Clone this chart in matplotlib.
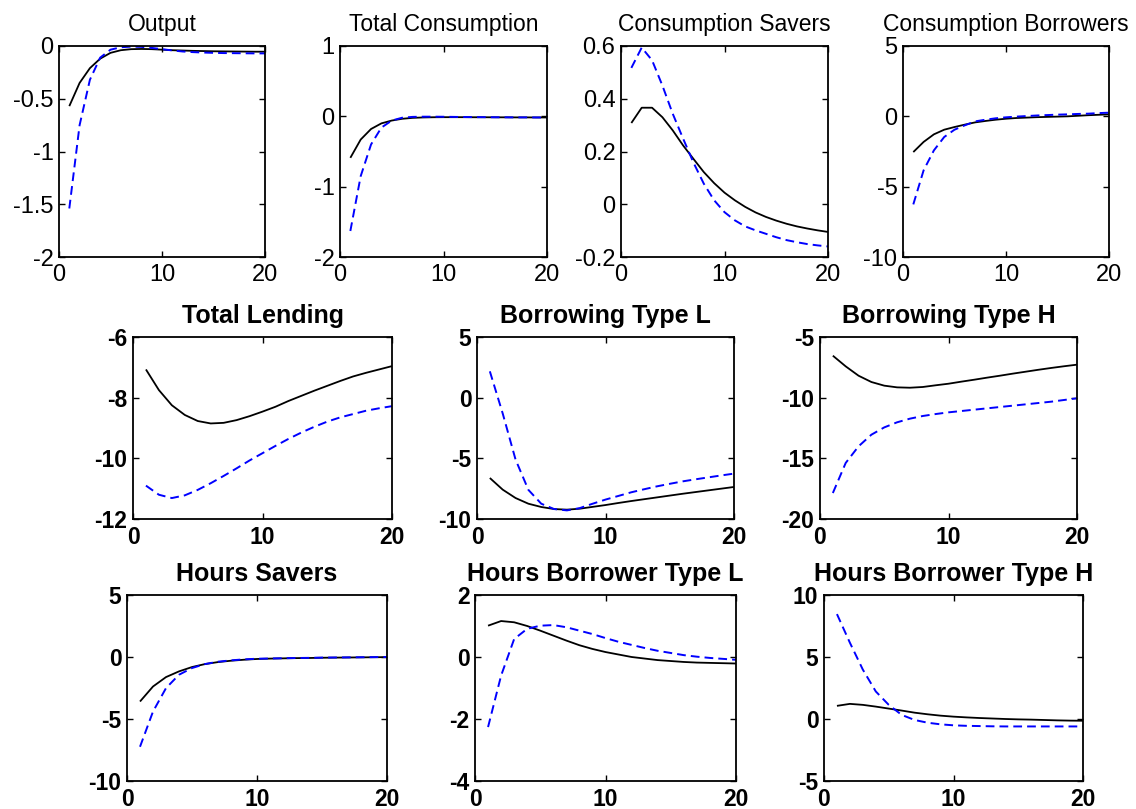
import matplotlib
matplotlib.use('Agg')
import matplotlib.pyplot as plt

plt.rcParams['font.family'] = ['Liberation Sans', 'DejaVu Sans']
plt.rcParams['axes.unicode_minus'] = False

periods = list(range(1, 21))
x_ticks = [0, 10, 20]
x_ticklabels = ['0', '10', '20']

titles = ['Output', 'Total Consumption', 'Consumption Savers', 'Consumption Borrowers',
          'Total Lending', 'Borrowing Type L', 'Borrowing Type H',
          'Hours Savers', 'Hours Borrower Type L', 'Hours Borrower Type H']

output_black = [-0.57, -0.35, -0.21, -0.12, -0.065, -0.04, -0.03, -0.028, -0.03, -0.035,
                -0.04, -0.043, -0.046, -0.048, -0.05, -0.051, -0.052, -0.053, -0.054, -0.054]
output_blue = [-1.54, -0.75, -0.32, -0.11, -0.035, -0.012, -0.006, -0.008, -0.018, -0.03,
               -0.042, -0.052, -0.058, -0.062, -0.065, -0.067, -0.068, -0.069, -0.07, -0.07]

totcons_black = [-0.59, -0.33, -0.18, -0.10, -0.06, -0.035, -0.022, -0.016, -0.013, -0.012,
                 -0.012, -0.012, -0.013, -0.013, -0.014, -0.014, -0.015, -0.015, -0.016, -0.016]
totcons_blue = [-1.63, -0.85, -0.40, -0.16, -0.06, -0.02, -0.008, -0.005, -0.005, -0.006,
                -0.008, -0.01, -0.011, -0.012, -0.013, -0.014, -0.015, -0.015, -0.016, -0.016]

conssav_black = [0.308, 0.366, 0.366, 0.33, 0.28, 0.223, 0.172, 0.122, 0.08, 0.044,
                 0.015, -0.01, -0.031, -0.048, -0.062, -0.074, -0.084, -0.092, -0.099, -0.105]
conssav_blue = [0.517, 0.594, 0.546, 0.45, 0.343, 0.249, 0.158, 0.078, 0.015, -0.03,
                -0.061, -0.084, -0.099, -0.112, -0.125, -0.136, -0.144, -0.151, -0.156, -0.16]

consbor_black = [-2.54, -1.82, -1.28, -0.95, -0.76, -0.59, -0.43, -0.33, -0.24, -0.17,
                 -0.12, -0.09, -0.06, -0.04, -0.02, 0.0, 0.04, 0.08, 0.11, 0.14]
consbor_blue = [-6.26, -3.84, -2.42, -1.47, -0.95, -0.64, -0.36, -0.24, -0.14, -0.07,
                -0.02, 0.02, 0.06, 0.09, 0.12, 0.14, 0.17, 0.19, 0.23, 0.26]

lend_black = [-7.07, -7.75, -8.25, -8.57, -8.77, -8.85, -8.83, -8.74, -8.61, -8.46,
              -8.30, -8.11, -7.94, -7.77, -7.61, -7.45, -7.30, -7.18, -7.07, -6.96]
lend_blue = [-10.9, -11.2, -11.31, -11.22, -11.04, -10.82, -10.58, -10.33, -10.07, -9.83,
             -9.59, -9.36, -9.15, -8.96, -8.79, -8.65, -8.54, -8.43, -8.35, -8.28]

borL_black = [-6.62, -7.58, -8.27, -8.74, -9.01, -9.18, -9.23, -9.15, -9.0, -8.85,
              -8.68, -8.52, -8.37, -8.22, -8.07, -7.92, -7.78, -7.64, -7.50, -7.36]
borL_blue = [2.17, -1.3, -5.1, -7.6, -8.74, -9.18, -9.29, -9.1, -8.74, -8.4,
             -8.1, -7.8, -7.55, -7.31, -7.1, -6.9, -6.73, -6.57, -6.41, -6.26]

borH_black = [-6.54, -7.42, -8.19, -8.71, -9.01, -9.15, -9.18, -9.12, -8.98, -8.85,
              -8.68, -8.52, -8.35, -8.19, -8.02, -7.86, -7.70, -7.55, -7.41, -7.28]
borH_blue = [-17.86, -15.38, -14.01, -13.05, -12.45, -12.03, -11.73, -11.51, -11.35, -11.21,
             -11.10, -10.99, -10.88, -10.77, -10.66, -10.55, -10.44, -10.33, -10.19, -10.05]

hsav_black = [-3.59, -2.38, -1.62, -1.16, -0.81, -0.57, -0.41, -0.30, -0.22, -0.16,
              -0.13, -0.11, -0.09, -0.08, -0.06, -0.05, -0.04, -0.03, -0.02, -0.01]
hsav_blue = [-7.24, -4.4, -2.51, -1.43, -0.89, -0.57, -0.38, -0.27, -0.19, -0.14,
             -0.12, -0.10, -0.08, -0.07, -0.05, -0.04, -0.03, -0.02, -0.01, 0.0]

hL_black = [1.01, 1.16, 1.12, 1.0, 0.85, 0.69, 0.53, 0.38, 0.26, 0.16,
            0.08, 0.0, -0.05, -0.10, -0.13, -0.16, -0.18, -0.19, -0.20, -0.21]
hL_blue = [-2.26, -0.6, 0.58, 0.91, 1.01, 1.03, 0.96, 0.85, 0.74, 0.61,
           0.49, 0.39, 0.29, 0.20, 0.13, 0.06, 0.01, -0.03, -0.06, -0.09]

hH_black = [1.06, 1.22, 1.14, 1.0, 0.84, 0.68, 0.51, 0.38, 0.27, 0.19,
            0.13, 0.08, 0.04, 0.0, -0.03, -0.05, -0.08, -0.11, -0.13, -0.14]
hH_blue = [8.46, 6.15, 3.98, 2.22, 1.14, 0.33, -0.08, -0.3, -0.43, -0.51,
           -0.55, -0.57, -0.59, -0.6, -0.6, -0.6, -0.6, -0.6, -0.6, -0.6]

black_series = [output_black, totcons_black, conssav_black, consbor_black,
                lend_black, borL_black, borH_black, hsav_black, hL_black, hH_black]
blue_series = [output_blue, totcons_blue, conssav_blue, consbor_blue,
               lend_blue, borL_blue, borH_blue, hsav_blue, hL_blue, hH_blue]

y_ticks = [[-2, -1.5, -1, -0.5, 0], [-2, -1, 0, 1], [-0.2, 0, 0.2, 0.4, 0.6], [-10, -5, 0, 5],
           [-12, -10, -8, -6], [-10, -5, 0, 5], [-20, -15, -10, -5],
           [-10, -5, 0, 5], [-4, -2, 0, 2], [-5, 0, 5, 10]]
y_ticklabels = [['-2', '-1.5', '-1', '-0.5', '0'], ['-2', '-1', '0', '1'],
                ['-0.2', '0', '0.2', '0.4', '0.6'], ['-10', '-5', '0', '5'],
                ['-12', '-10', '-8', '-6'], ['-10', '-5', '0', '5'], ['-20', '-15', '-10', '-5'],
                ['-10', '-5', '0', '5'], ['-4', '-2', '0', '2'], ['-5', '0', '5', '10']]

W, H = 1136, 809
# pixel boxes (left, right, top, bottom)
boxes = [(59, 265, 46, 257), (340, 547, 46, 257), (621, 828, 46, 257), (903, 1109, 46, 257),
         (133, 392, 337, 519), (477, 734, 337, 519), (820, 1077, 337, 519),
         (127, 387, 595, 781), (475, 736, 595, 781), (824, 1083, 595, 781)]

fig = plt.figure(figsize=(W / 100, H / 100), dpi=100)

for i, (l, r, t, b) in enumerate(boxes):
    ax = fig.add_axes([l / W, 1 - b / H, (r - l) / W, (b - t) / H])
    top_row = i < 4
    weight = 'normal' if top_row else 'bold'
    tick_fs = 17 if top_row else 16.5
    title_fs = 16.5 if top_row else 18
    ax.plot(periods, black_series[i], color='black', lw=1.3, solid_capstyle='butt')
    ax.plot(periods, blue_series[i], color='#0000ff', lw=1.4, linestyle=(0, (4.5, 2.6)))
    ax.set_xlim(0, 20)
    ax.set_ylim(y_ticks[i][0], y_ticks[i][-1])
    ax.set_xticks(x_ticks)
    ax.set_xticklabels(x_ticklabels, fontsize=tick_fs, fontweight=weight)
    ax.set_yticks(y_ticks[i])
    ax.set_yticklabels(y_ticklabels[i], fontsize=tick_fs, fontweight=weight)
    ax.tick_params(direction='in', top=True, right=True, length=4, width=1.0)
    ax.tick_params(axis='y', pad=4)
    ax.tick_params(axis='x', pad=5)
    for s in ax.spines.values():
        s.set_linewidth(1.3)
    ax.set_title(titles[i], fontsize=title_fs, fontweight=weight, pad=11 if top_row else 10)

fig.savefig('out.png', dpi=100)
